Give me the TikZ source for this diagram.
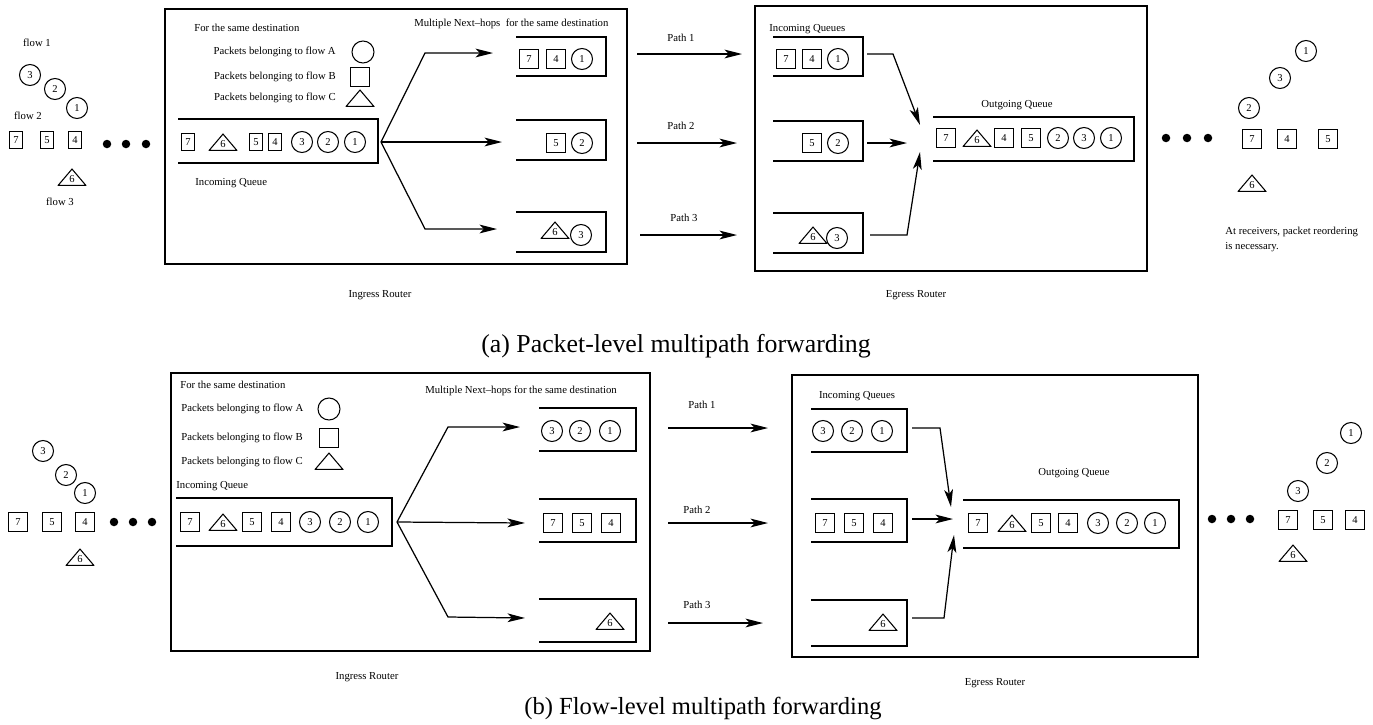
\documentclass[tikz,border=0pt]{standalone}
\usepackage{fontspec}
\setmainfont{Liberation Serif}
\usetikzlibrary{arrows.meta,calc}

\tikzset{
  txt/.style={font=\fontsize{6.1}{7}\selectfont, inner sep=0pt},
  captxt/.style={font=\fontsize{14.3}{16}\selectfont, inner sep=0pt},
  pk/.style={draw, line width=0.6pt, inner sep=0pt, font=\fontsize{6}{6}\selectfont},
  sq/.style={pk, rectangle, minimum width=0.38cm, minimum height=0.38cm},
  sqn/.style={pk, rectangle, minimum width=0.27cm, minimum height=0.35cm},
  ci/.style={pk, circle, minimum size=0.42cm},
  tri/.style={inner sep=0pt, font=\fontsize{6}{6}\selectfont, text height=6pt, text depth=0pt,
    minimum width=0.58cm, minimum height=0.36cm,
    path picture={\draw[line width=0.6pt]
      ([shift={(0.4pt,0.4pt)}]path picture bounding box.south west) --
      ([shift={(-0.4pt,0.4pt)}]path picture bounding box.south east) --
      ([shift={(0pt,-0.6pt)}]path picture bounding box.north) -- cycle;}},
  dot/.style={circle, fill, inner sep=0pt, minimum size=0.17cm},
  rbox/.style={line width=1.1pt},
  qline/.style={line width=0.9pt},
  arr/.style={line width=0.7pt, -{Stealth[length=10pt,width=5pt,inset=2.5pt]}}
}

% open-left queue box from two corners
\newcommand{\qbox}[3]{%
  \coordinate (#1nw) at (#2);
  \coordinate (#1se) at (#3);
  \draw[qline] (#1nw) -- (#1nw -| #1se) -- (#1se) -- (#1se -| #1nw);}

\begin{document}
\begin{tikzpicture}[x=0.02cm, y=-0.02cm]
\useasboundingbox (0,0) rectangle (1373,724);

% ---------- (a) packet-level ----------
\foreach \k/\x/\y/\n [count=\i] in {ci/30/75/3, ci/55/89/2, ci/77/108/1, sqn/16/140/7, sqn/47/140/5, sqn/75/140/4, tri/72/177/6}
  \node[\k] (aS\i) at (\x,\y) {\n};
\node[txt] (aF1) at (37,43) {flow 1};
\node[txt] (aF2) at (28,116) {flow 2};
\node[txt] (aF3) at (60,202) {flow 3};
\foreach \x [count=\i] in {107,126,146} \node[dot] (aD\i) at (\x,144) {};

\draw[rbox] (165,9) rectangle (627,264);
\node[txt, anchor=west] (aDest) at (194,28) {For the same destination};
\node[txt, anchor=east] (aLA) at (336,52) {Packets belonging to flow A};
\node[txt, anchor=east] (aLB) at (336,77) {Packets belonging to flow B};
\node[txt, anchor=east] (aLC) at (336,98) {Packets belonging to flow C};
\node[ci, minimum size=0.44cm] (aKA) at (363,52) {};
\node[sq] (aKB) at (360,77) {};
\node[tri] (aKC) at (360,98) {};

\qbox{aQ}{178,119}{378,163}
\foreach \k/\x/\n [count=\i] in {sqn/188/7, tri/223/6, sqn/256/5, sqn/275/4, ci/302/3, ci/328/2, ci/355/1}
  \node[\k] (aQ\i) at (\x,142) {\n};
\node[txt, anchor=west] (aInQ) at (195,183) {Incoming Queue};
\node[txt, anchor=west] (aMulti) at (414,24) {Multiple Next--hops\ \ for the same destination};

\coordinate (aFan) at (381,142);
\coordinate (aB1) at (425,53);  \coordinate (aT1) at (493,53);
\coordinate (aT2) at (502,142);
\coordinate (aB3) at (425,229); \coordinate (aT3) at (497,229);
\draw[arr] (aFan) -- (aB1) -- (aT1);
\draw[arr] (aFan) -- (aT2);
\draw[arr] (aFan) -- (aB3) -- (aT3);

\qbox{aN1}{516,37}{606,76}
\foreach \k/\x/\n [count=\i] in {sq/529/7, sq/556/4, ci/582/1} \node[\k] (aN1\i) at (\x,59) {\n};
\qbox{aN2}{516,120}{606,160}
\foreach \k/\x/\n [count=\i] in {sq/556/5, ci/582/2} \node[\k] (aN2\i) at (\x,143) {\n};
\qbox{aN3}{516,212}{606,252}
\node[tri] (aN31) at (555,230) {6};
\node[ci] (aN32) at (581,235) {3};

% paths
\foreach \s/\e/\y/\ly/\lx [count=\i] in {637/742/54/38/681, 637/737/143/126/681, 640/737/235/218/684} {
  \coordinate (aP\i s) at (\s,\y);
  \coordinate (aP\i e) at (\e,\y);
  \draw[arr] (aP\i s) -- (aP\i e);
  \node[txt] (aPath\i) at (\lx,\ly) {Path \i};
}

\draw[rbox] (755,6) rectangle (1147,271);
\node[txt, anchor=west] (aInQs) at (769,29) {Incoming Queues};
\qbox{aE1}{773,37}{863,76}
\foreach \k/\x/\n [count=\i] in {sq/786/7, sq/812/4, ci/838/1} \node[\k] (aE1\i) at (\x,59) {\n};
\qbox{aE2}{773,121}{863,161}
\foreach \k/\x/\n [count=\i] in {sq/812/5, ci/838/2} \node[\k] (aE2\i) at (\x,143) {\n};
\qbox{aE3}{773,213}{863,253}
\node[tri] (aE31) at (813,235) {6};
\node[ci] (aE32) at (837,238) {3};

\coordinate (aM1s) at (867,54);  \coordinate (aM1b) at (893,54);  \coordinate (aM1e) at (920,125);
\coordinate (aM2s) at (867,143); \coordinate (aM2e) at (907,143);
\coordinate (aM3s) at (870,235); \coordinate (aM3b) at (907,235); \coordinate (aM3e) at (920,152);
\draw[arr] (aM1s) -- (aM1b) -- (aM1e);
\draw[arr] (aM2s) -- (aM2e);
\draw[arr] (aM3s) -- (aM3b) -- (aM3e);

\node[txt] (aOutQ) at (1017,105) {Outgoing Queue};
\qbox{aO}{933,117}{1134,161}
\foreach \k/\x/\n [count=\i] in {sq/946/7, tri/977/6, sq/1004/4, sq/1031/5, ci/1058/2, ci/1084/3, ci/1111/1}
  \node[\k] (aO\i) at (\x,138) {\n};
\foreach \x [count=\i] in {1166,1187,1208} \node[dot] (aDr\i) at (\x,138) {};

\foreach \k/\x/\y/\n [count=\i] in {ci/1306/51/1, ci/1280/78/3, ci/1249/108/2, sq/1252/139/7, sq/1287/139/4, sq/1328/139/5, tri/1252/183/6}
  \node[\k] (aR\i) at (\x,\y) {\n};
\node[txt, anchor=north west, align=left, font=\fontsize{6.1}{8.5}\selectfont] (aNote) at (1225,227)
  {At receivers, packet reordering\\is necessary.};

\node[txt] (aIng) at (380,295) {Ingress Router};
\node[txt] (aEg) at (916,295) {Egress Router};
\node[captxt, font=\fontsize{14.7}{16}\selectfont] (aCap) at (676,346) {(a) Packet-level multipath forwarding};

% ---------- (b) flow-level ----------
\foreach \k/\x/\y/\n [count=\i] in {ci/43/451/3, ci/66/475/2, ci/85/493/1, sq/18/522/7, sq/52/522/5, sq/85/522/4, tri/80/557/6}
  \node[\k] (bS\i) at (\x,\y) {\n};
\foreach \x [count=\i] in {114,133,152} \node[dot] (bD\i) at (\x,522) {};

\draw[rbox] (171,373) rectangle (650,651);
\node[txt, anchor=west] (bDest) at (180,385) {For the same destination};
\node[txt, anchor=west] (bLA) at (181,409) {Packets belonging to flow A};
\node[txt, anchor=west] (bLB) at (181,438) {Packets belonging to flow B};
\node[txt, anchor=west] (bLC) at (181,462) {Packets belonging to flow C};
\node[ci, minimum size=0.44cm] (bKA) at (329,409) {};
\node[sq] (bKB) at (329,438) {};
\node[tri] (bKC) at (329,461) {};
\node[txt, anchor=west] (bInQ) at (176,486) {Incoming Queue};

\qbox{bQ}{176,498}{392,546}
\foreach \k/\x/\n [count=\i] in {sq/190/7, tri/223/6, sq/252/5, sq/281/4, ci/310/3, ci/340/2, ci/368/1}
  \node[\k] (bQ\i) at (\x,522) {\n};
\node[txt, anchor=west] (bMulti) at (425,391) {Multiple Next--hops for the same destination};

\coordinate (bFan) at (397,522);
\coordinate (bB1) at (448,427); \coordinate (bT1) at (520,427);
\coordinate (bT2) at (525,523);
\coordinate (bB3) at (448,617); \coordinate (bT3) at (525,618);
\draw[arr] (bFan) -- (bB1) -- (bT1);
\draw[arr] (bFan) -- (bT2);
\draw[arr] (bFan) -- (bB3) -- (bT3);

\qbox{bN1}{539,408}{636,451}
\foreach \k/\x/\n [count=\i] in {ci/552/3, ci/580/2, ci/610/1} \node[\k] (bN1\i) at (\x,431) {\n};
\qbox{bN2}{539,499}{636,542}
\foreach \k/\x/\n [count=\i] in {sq/553/7, sq/582/5, sq/611/4} \node[\k] (bN2\i) at (\x,523) {\n};
\qbox{bN3}{539,599}{636,642}
\node[tri] (bN31) at (610,621) {6};

% paths
\foreach \s/\e/\y/\ly/\lx [count=\i] in {668/768/428/405/702, 668/768/523/510/697, 668/763/623/605/697} {
  \coordinate (bP\i s) at (\s,\y);
  \coordinate (bP\i e) at (\e,\y);
  \draw[arr] (bP\i s) -- (bP\i e);
  \node[txt] (bPath\i) at (\lx,\ly) {Path \i};
}

\draw[rbox] (792,375) rectangle (1198,657);
\node[txt] (bInQs) at (857,396) {Incoming Queues};
\qbox{bE1}{811,409}{907,452}
\foreach \k/\x/\n [count=\i] in {ci/823/3, ci/852/2, ci/882/1} \node[\k] (bE1\i) at (\x,431) {\n};
\qbox{bE2}{811,499}{907,542}
\foreach \k/\x/\n [count=\i] in {sq/825/7, sq/854/5, sq/883/4} \node[\k] (bE2\i) at (\x,523) {\n};
\qbox{bE3}{811,600}{907,646}
\node[tri] (bE31) at (883,622) {6};

\coordinate (bM1s) at (912,428); \coordinate (bM1b) at (940,428); \coordinate (bM1e) at (951,507);
\coordinate (bM2s) at (912,519); \coordinate (bM2e) at (953,519);
\coordinate (bM3s) at (912,618); \coordinate (bM3b) at (944,618); \coordinate (bM3e) at (954,535);
\draw[arr] (bM1s) -- (bM1b) -- (bM1e);
\draw[arr] (bM2s) -- (bM2e);
\draw[arr] (bM3s) -- (bM3b) -- (bM3e);

\node[txt] (bOutQ) at (1074,473) {Outgoing Queue};
\qbox{bO}{963,500}{1179,548}
\foreach \k/\x/\n [count=\i] in {sq/978/7, tri/1012/6, sq/1041/5, sq/1068/4, ci/1098/3, ci/1127/2, ci/1155/1}
  \node[\k] (bO\i) at (\x,523) {\n};
\foreach \x [count=\i] in {1212,1231,1250} \node[dot] (bDr\i) at (\x,519) {};

\foreach \k/\x/\y/\n [count=\i] in {ci/1351/433/1, ci/1327/463/2, ci/1298/491/3, sq/1288/520/7, sq/1323/520/5, sq/1355/520/4, tri/1293/553/6}
  \node[\k] (bR\i) at (\x,\y) {\n};

\node[txt] (bIng) at (367,677) {Ingress Router};
\node[txt] (bEg) at (995,683) {Egress Router};
\node[captxt, font=\fontsize{14}{16}\selectfont] (bCap) at (703,708) {(b) Flow-level multipath forwarding};
\end{tikzpicture}
\end{document}
